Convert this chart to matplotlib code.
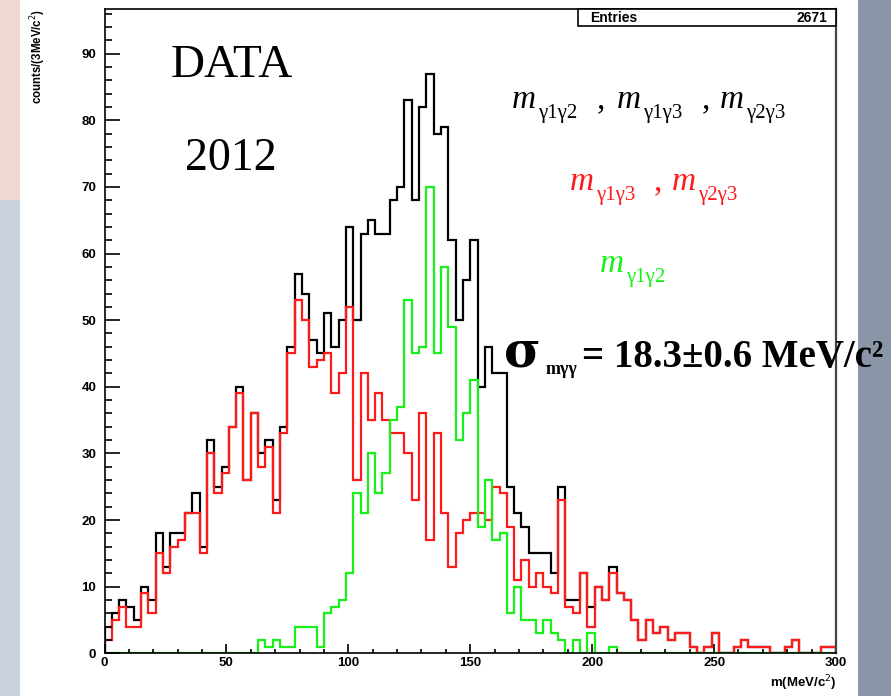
import numpy as np
import matplotlib.pyplot as plt
from matplotlib.patches import Rectangle
from matplotlib.ticker import MultipleLocator

# 100 bins of 3 MeV/c^2 from 0 to 300
edges = np.arange(0, 303, 3)

# m_g1g2 + m_g1g3 + m_g2g3 (black)
m_all = [4, 6, 8, 7, 5, 10, 8, 18, 13, 18,
         18, 21, 24, 16, 32, 25, 28, 34, 40, 26,
         36, 30, 32, 23, 34, 46, 57, 54, 47, 45,
         51, 46, 50, 64, 50, 63, 65, 63, 63, 68,
         70, 83, 68, 82, 87, 78, 79, 62, 50, 56,
         62, 40, 46, 42, 42, 25, 21, 19, 15, 15,
         15, 12, 25, 8, 8, 12, 7, 10, 8, 13,
         9, 8, 5, 2, 5, 3, 4, 2, 3, 3,
         1, 0, 1, 3, 0, 0, 1, 2, 1, 1,
         1, 0, 0, 1, 2, 0, 0, 0, 1, 1]

# m_g1g3 , m_g2g3 (red)
m_13_23 = [2, 5, 7, 4, 4, 9, 6, 15, 12, 16,
           17, 21, 21, 15, 30, 24, 27, 34, 39, 26,
           36, 28, 31, 21, 33, 45, 53, 50, 43, 44,
           45, 39, 42, 52, 26, 42, 35, 39, 35, 33,
           33, 30, 23, 36, 17, 33, 21, 13, 18, 20,
           21, 21, 20, 25, 24, 19, 11, 14, 10, 12,
           10, 9, 23, 7, 6, 12, 4, 10, 8, 12,
           9, 8, 5, 2, 5, 3, 4, 2, 3, 3,
           1, 0, 1, 3, 0, 0, 1, 2, 1, 1,
           1, 0, 0, 1, 2, 0, 0, 0, 1, 1]

# m_g1g2 (green)
m_12 = [0, 0, 0, 0, 0, 0, 0, 0, 0, 0,
        0, 0, 0, 0, 0, 0, 0, 0, 0, 0,
        0, 2, 1, 2, 1, 1, 4, 4, 4, 1,
        6, 7, 8, 12, 24, 21, 30, 24, 27, 35,
        37, 53, 45, 46, 70, 45, 58, 49, 32, 36,
        41, 19, 26, 17, 18, 6, 10, 5, 5, 3,
        5, 3, 2, 0, 2, 0, 3, 0, 0, 1,
        0, 0, 0, 0, 0, 0, 0, 0, 0, 0,
        0, 0, 0, 0, 0, 0, 0, 0, 0, 0,
        0, 0, 0, 0, 0, 0, 0, 0, 0, 0]

entries = 2671

W, H = 891, 696
fig = plt.figure(figsize=(W / 100, H / 100), dpi=100)
fig.patch.set_facecolor('white')


def fx(x):
    return x / W


def fy(y):
    return 1 - y / H


# slide background strips at the sides
fig.add_artist(Rectangle((0, 0), fx(20), 1, transform=fig.transFigure,
                         facecolor='#c9d1dd', edgecolor='none', zorder=0))
fig.add_artist(Rectangle((0, fy(200)), fx(20), 200 / H, transform=fig.transFigure,
                         facecolor='#efd9d2', edgecolor='none', zorder=0))
fig.add_artist(Rectangle((fx(858), 0), 1 - fx(858), 1, transform=fig.transFigure,
                         facecolor='#8b95a8', edgecolor='none', zorder=0))

ax = fig.add_axes([fx(104.5), fy(653.3), (836 - 104.5) / W, (653.3 - 9) / H])
ax.set_facecolor('white')

ax.stairs(m_all, edges, color='black', lw=1.6)
ax.stairs(m_13_23, edges, color='#ff1a1a', lw=1.6)
ax.stairs(m_12, edges, color='#19f019', lw=1.6)

ax.set_xlim(0, 300)
ax.set_ylim(0, 96.7)

ax.xaxis.set_major_locator(MultipleLocator(50))
ax.xaxis.set_minor_locator(MultipleLocator(10))
ax.yaxis.set_major_locator(MultipleLocator(10))
ax.yaxis.set_minor_locator(MultipleLocator(2))
ax.tick_params(which='both', direction='in', top=False, right=False,
               labelsize=9.5, width=1.2, colors='black')
ax.tick_params(axis='y', which='major', length=10.5, pad=6)
ax.tick_params(axis='y', which='minor', length=5)
ax.tick_params(axis='x', which='major', length=6.5, pad=3)
ax.tick_params(axis='x', which='minor', length=3)
for lab in ax.get_xticklabels() + ax.get_yticklabels():
    lab.set_fontfamily('Liberation Sans')
    lab.set_fontweight('bold')
for side in ['left', 'bottom', 'top']:
    ax.spines[side].set_linewidth(1.2)
ax.spines['right'].set_linewidth(1.6)
ax.spines['right'].set_color('#444444')

# axis titles, ROOT style at the axis ends
fig.text(fx(38), fy(9), 'counts/(3MeV/c$^2$)', rotation=90, ha='center', va='top',
         fontsize=8.3, fontweight='bold', family='Liberation Sans')
fig.text(fx(837), fy(693), 'm(MeV/c$^2$)', ha='right', va='bottom',
         fontsize=9.5, fontweight='bold', family='Liberation Sans')

# stats box
fig.add_artist(Rectangle((fx(578), fy(26)), (836 - 578) / W, 17 / H,
                         transform=fig.transFigure, facecolor='white',
                         edgecolor='black', lw=1.2, zorder=5))
fig.text(fx(590), fy(17.5), 'Entries', ha='left', va='center', fontsize=10,
         fontweight='bold', family='Liberation Sans', zorder=6)
fig.text(fx(827), fy(17.5), str(entries), ha='right', va='center', fontsize=10,
         fontweight='bold', family='Liberation Sans', zorder=6)

serif = 'Liberation Serif'
fig.text(fx(171), fy(77), 'DATA', fontsize=34, family=serif, va='baseline')
fig.text(fx(185), fy(170), '2012', fontsize=33, family=serif, va='baseline')


def mass_label(x, y, sub, color):
    fig.text(fx(x), fy(y), 'm', fontsize=24, family=serif, style='italic',
             color=color, va='baseline')
    fig.text(fx(x + 26), fy(y + 10), sub, fontsize=15, family=serif,
             color=color, va='baseline')


mass_label(512, 108, 'γ1γ2', 'black')
fig.text(fx(597), fy(108), ',', fontsize=24, family=serif, va='baseline')
mass_label(617, 108, 'γ1γ3', 'black')
fig.text(fx(702), fy(108), ',', fontsize=24, family=serif, va='baseline')
mass_label(720, 108, 'γ2γ3', 'black')

mass_label(570, 190, 'γ1γ3', '#ff1a1a')
fig.text(fx(654), fy(190), ',', fontsize=24, family=serif, va='baseline',
         color='#ff1a1a')
mass_label(672, 190, 'γ2γ3', '#ff1a1a')

mass_label(600, 272, 'γ1γ2', '#19f019')

fig.text(fx(504), fy(367), 'σ', fontsize=36, family='DejaVu Serif',
         fontweight='bold', va='baseline')
fig.text(fx(546), fy(374), 'mγγ', fontsize=13, family=serif, fontweight='bold',
         va='baseline')
fig.text(fx(582), fy(367), '= 18.3±0.6 MeV/c²', fontsize=28, family=serif,
         fontweight='bold', va='baseline', zorder=6)

fig.savefig('out.png', dpi=100)
